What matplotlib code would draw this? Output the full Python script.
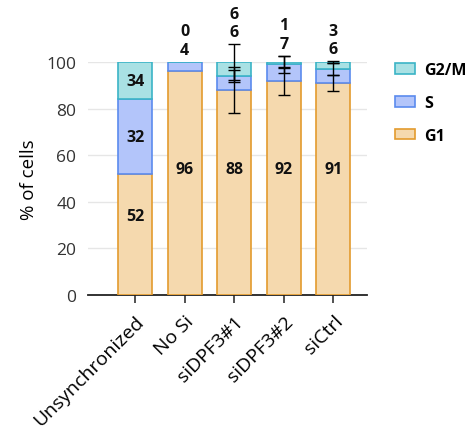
import matplotlib
matplotlib.use("Agg")
import matplotlib.pyplot as plt
import numpy as np

plt.rcParams['font.family'] = ['Open Sans', 'DejaVu Sans']

categories = ["Unsynchronized", "No Si", "siDPF3#1", "siDPF3#2", "siCtrl"]
g1 = [52, 96, 88, 92, 91]
s = [32, 4, 6, 7, 6]
g2m = [16, 0, 6, 1, 3]
g1_labels = ["52", "96", "88", "92", "91"]
s_labels = ["32", "4", "6", "7", "6"]
g2m_labels = ["34", "0", "6", "1", "3"]
g1_err = [0, 0, 10, 6, 3.6]
s_err = [0, 0, 2.5, 3.6, 2.6]
g2m_err = [0, 0, 7.7, 2.4, 0.4]

c_g1, e_g1 = "#F5D9AE", "#E39B2E"
c_s, e_s = "#B3C5FA", "#5B8BEE"
c_g2, e_g2 = "#A9E1E4", "#3BB4C6"

fig = plt.figure(figsize=(4.67, 4.35), dpi=100)
ax = fig.add_axes([0.1884, 0.3195, 0.5975, 0.5356])

x = np.arange(len(categories))
w = 0.69
g1a = np.array(g1, float)
sa = np.array(s, float)
ga = np.array(g2m, float)

ax.bar(x, g1a, w, color=c_g1, edgecolor=e_g1, linewidth=1.2, label="G1", zorder=3)
ax.bar(x, sa, w, bottom=g1a, color=c_s, edgecolor=e_s, linewidth=1.2, label="S", zorder=3)
ax.bar(x, ga, w, bottom=g1a + sa, color=c_g2, edgecolor=e_g2, linewidth=1.2, label="G2/M", zorder=3)

for i in range(len(x)):
    tops = [g1a[i], g1a[i] + sa[i], g1a[i] + sa[i] + ga[i]]
    errs = [g1_err[i], s_err[i], g2m_err[i]]
    for t, e in zip(tops, errs):
        if e > 0:
            ax.errorbar(x[i], t, yerr=e, color="black", capsize=4, elinewidth=1,
                        capthick=1, zorder=5, clip_on=False)

lab_kw = dict(ha="center", va="center", fontsize=11.5, fontweight="bold", color="#111111", zorder=6)
for i in range(len(x)):
    ax.text(x[i], min(g1a[i] - 18, 54), g1_labels[i], **lab_kw)
    if sa[i] >= 10:
        ax.text(x[i], g1a[i] + sa[i] / 2, s_labels[i], **lab_kw)
        ax.text(x[i], g1a[i] + sa[i] + ga[i] / 2, g2m_labels[i], **lab_kw)
    else:
        top = max(g1a[i] + g1_err[i], g1a[i] + sa[i] + s_err[i],
                  g1a[i] + sa[i] + ga[i] + g2m_err[i])
        ax.annotate(s_labels[i], (x[i], top), xytext=(0, 8.5), textcoords="offset points",
                    **lab_kw, annotation_clip=False)
        ax.annotate(g2m_labels[i], (x[i], top), xytext=(0, 22), textcoords="offset points",
                    **lab_kw, annotation_clip=False)

ax.set_xlim(-0.95, 4.68)
ax.set_ylim(0, 100)
ax.set_yticks([0, 20, 40, 60, 80, 100])
ax.yaxis.grid(True, color="#E6E6E6", linewidth=1, zorder=0)
ax.set_axisbelow(True)
for sp in ["top", "right", "left"]:
    ax.spines[sp].set_visible(False)
ax.spines["bottom"].set_color("#222222")
ax.spines["bottom"].set_linewidth(1.3)
ax.tick_params(axis="y", length=0, pad=8.5, labelsize=12.5, labelcolor="#333333")
ax.tick_params(axis="x", length=6, width=1.2, color="#333333", pad=6, labelsize=14)
ax.set_xticks(x)
ax.set_xticklabels(categories, rotation=45, ha="right", rotation_mode="anchor")
ax.set_ylabel("% of cells", fontsize=13.5, labelpad=6)

handles, labels = ax.get_legend_handles_labels()
leg = fig.legend(handles[::-1], labels[::-1], loc="upper left", bbox_to_anchor=(0.84, 0.862),
                 frameon=False, prop=dict(size=11.5, weight="bold"),
                 handlelength=1.2, handleheight=0.65, labelspacing=1.05, handletextpad=0.6,
                 borderaxespad=0, borderpad=0.2)

fig.savefig("out.png", dpi=100)
